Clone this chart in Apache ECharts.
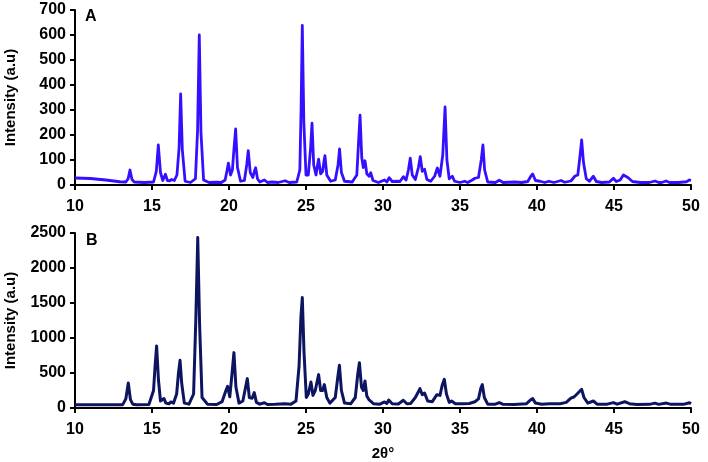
<!DOCTYPE html>
<html><head><meta charset="utf-8">
<script src="https://cdn.jsdelivr.net/npm/echarts@6/dist/echarts.min.js"></script>
<style>html,body{margin:0;padding:0;background:#fff}#c{width:708px;height:462px}</style>
</head><body><div id="c"></div>
<script>
const xTicks = [10, 15, 20, 25, 30, 35, 40, 45, 50];
const yTicksA = [0, 100, 200, 300, 400, 500, 600, 700];
const yTicksB = [0, 500, 1000, 1500, 2000, 2500];
const panelLabels = ['A', 'B'];
const yTitle = 'Intensity (a.u)';
const xTitle = '2θ°';

const patternA = [[10,28],[11,26],[12,20],[12.9,13],[13.3,12],[13.45,25],[13.57,60],[13.7,22],[13.85,12],[14.5,10],[15.1,12],[15.28,55],[15.41,160],[15.55,50],[15.7,18],[15.87,43],[16.0,18],[16.15,17],[16.28,22],[16.45,18],[16.62,40],[16.76,150],[16.86,364],[16.97,140],[17.15,15],[17.5,10],[17.82,25],[17.96,220],[18.07,600],[18.18,210],[18.35,20],[18.7,10],[19.2,11],[19.5,10],[19.75,20],[19.88,60],[19.96,87],[20.1,40],[20.22,60],[20.33,150],[20.43,224],[20.55,70],[20.75,15],[21.0,18],[21.15,80],[21.25,137],[21.38,50],[21.55,30],[21.65,55],[21.73,69],[21.85,25],[22.0,12],[22.3,20],[22.5,10],[22.8,12],[23.2,10],[23.64,17],[23.9,10],[24.4,12],[24.6,60],[24.68,300],[24.76,638],[24.86,250],[25.0,40],[25.15,40],[25.3,150],[25.39,247],[25.5,80],[25.65,40],[25.75,80],[25.82,103],[25.95,45],[26.08,55],[26.18,100],[26.23,117],[26.35,40],[26.6,15],[26.9,20],[27.08,80],[27.18,144],[27.3,50],[27.5,15],[28.0,12],[28.3,40],[28.42,180],[28.51,279],[28.62,110],[28.72,70],[28.83,97],[28.95,45],[29.1,35],[29.2,49],[29.35,18],[29.7,10],[30.1,20],[30.25,12],[30.4,29],[30.6,14],[30.9,15],[31.1,14],[31.32,33],[31.5,20],[31.65,60],[31.77,107],[31.9,40],[32.1,22],[32.3,70],[32.42,113],[32.55,55],[32.7,63],[32.85,22],[33.1,15],[33.35,35],[33.53,68],[33.7,35],[33.88,120],[34.03,312],[34.15,100],[34.3,25],[34.5,35],[34.65,15],[35.0,10],[35.3,15],[35.5,10],[35.8,20],[35.97,27],[36.2,30],[36.38,100],[36.49,160],[36.6,60],[36.8,12],[37.3,10],[37.55,19],[37.8,10],[38.56,12],[39.0,10],[39.4,14],[39.6,35],[39.72,44],[39.9,18],[40.2,15],[40.5,10],[40.77,15],[41.1,10],[41.56,18],[41.8,11],[42.2,16],[42.47,36],[42.65,40],[42.8,120],[42.9,180],[43.02,90],[43.2,25],[43.4,15],[43.66,35],[43.85,14],[44.2,10],[44.7,12],[44.96,27],[45.15,14],[45.4,20],[45.61,40],[45.9,30],[46.2,14],[46.7,10],[47.3,10],[47.66,16],[47.9,10],[48.1,10],[48.38,16],[48.6,10],[49.2,10],[49.7,13],[49.9,20],[50,18]];

const patternB = [[10,48],[12,48],[13.1,48],[13.3,130],[13.46,357],[13.6,120],[13.75,55],[13.85,62],[14.0,48],[14.8,50],[15.1,250],[15.2,600],[15.3,886],[15.42,400],[15.55,100],[15.65,110],[15.78,134],[15.9,70],[16.1,60],[16.23,86],[16.4,70],[16.6,200],[16.72,500],[16.82,681],[16.93,350],[17.1,70],[17.4,55],[17.7,200],[17.85,1300],[17.97,2434],[18.09,1200],[18.25,150],[18.6,55],[19.2,50],[19.55,90],[19.8,250],[19.91,310],[20.05,160],[20.2,500],[20.32,791],[20.45,300],[20.65,70],[20.9,100],[21.08,300],[21.19,420],[21.32,150],[21.5,140],[21.64,220],[21.78,80],[22.0,55],[22.3,75],[22.5,50],[23.0,52],[23.64,62],[24.0,52],[24.35,100],[24.55,600],[24.67,1300],[24.76,1577],[24.87,800],[25.02,150],[25.15,200],[25.32,371],[25.45,180],[25.6,250],[25.82,477],[25.95,250],[26.08,250],[26.19,334],[26.35,150],[26.55,70],[26.9,150],[27.07,450],[27.17,610],[27.3,250],[27.5,70],[27.9,60],[28.2,150],[28.37,500],[28.47,648],[28.6,300],[28.72,250],[28.83,386],[28.95,170],[29.08,120],[29.2,134],[29.4,60],[29.8,55],[30.1,86],[30.25,65],[30.37,114],[30.6,60],[31.0,58],[31.32,110],[31.55,60],[31.8,65],[32.1,150],[32.4,276],[32.55,190],[32.7,214],[32.9,100],[33.2,90],[33.5,190],[33.7,180],[33.85,330],[33.98,410],[34.12,200],[34.3,80],[34.45,100],[34.7,60],[35.2,60],[35.6,65],[35.97,90],[36.2,130],[36.35,280],[36.45,334],[36.58,150],[36.8,55],[37.3,55],[37.55,77],[37.8,52],[38.5,50],[39.3,60],[39.55,110],[39.72,134],[39.9,70],[40.3,55],[40.8,60],[41.5,62],[41.9,80],[42.2,140],[42.4,157],[42.6,200],[42.9,267],[43.05,150],[43.3,70],[43.66,100],[43.9,55],[44.5,52],[44.96,77],[45.2,55],[45.7,90],[46.0,62],[46.5,50],[47.3,52],[47.66,70],[47.9,52],[48.4,70],[48.7,52],[49.5,52],[49.9,75],[50,60]];

const FONT = 'Liberation Sans, Arial, sans-serif';
const chart = echarts.init(document.getElementById('c'), null, {renderer: 'canvas'});

function xAxis(gi, withName) {
  return {
    type: 'value', gridIndex: gi, min: xTicks[0], max: xTicks[xTicks.length-1], interval: xTicks[1]-xTicks[0],
    splitLine: {show: false},
    axisLine: {onZero: false, lineStyle: {color: '#000', width: 2}},
    axisTick: {show: true, inside: false, length: 5, lineStyle: {color: '#000', width: 2}},
    axisLabel: {color: '#000', fontFamily: FONT, fontWeight: 'bold', fontSize: 16, margin: 14, formatter: v => String(v)},
    name: withName ? xTitle : '', nameLocation: 'middle', nameGap: 38,
    nameTextStyle: {color: '#000', fontFamily: FONT, fontWeight: 'bold', fontSize: 15}
  };
}
function yAxis(gi, ticks) {
  return {
    type: 'value', gridIndex: gi, min: ticks[0], max: ticks[ticks.length-1], interval: ticks[1]-ticks[0],
    splitLine: {show: false},
    axisLine: {show: true, lineStyle: {color: '#000', width: 2}},
    axisTick: {show: true, inside: false, length: 5, lineStyle: {color: '#000', width: 2}},
    axisLabel: {color: '#000', fontFamily: FONT, fontWeight: 'bold', fontSize: 16, margin: 9, formatter: v => String(v)},
    name: yTitle, nameLocation: 'middle', nameGap: 57, nameRotate: 90,
    nameTextStyle: {color: '#000', fontFamily: FONT, fontWeight: 'bold', fontSize: 15}
  };
}

chart.setOption({
  animation: false,
  backgroundColor: '#fff',
  grid: [
    {left: 75, right: 17, top: 10, height: 175, containLabel: false, outerBoundsMode: 'none'},
    {left: 75, right: 17, top: 233, height: 175, containLabel: false, outerBoundsMode: 'none'}
  ],
  xAxis: [xAxis(0, false), xAxis(1, true)],
  yAxis: [yAxis(0, yTicksA), yAxis(1, yTicksB)],
  graphic: [
    {type: 'text', left: 85, top: 9, style: {text: panelLabels[0], fontFamily: FONT, fontWeight: 'bold', fontSize: 16, fill: '#000'}},
    {type: 'text', left: 86, top: 233, style: {text: panelLabels[1], fontFamily: FONT, fontWeight: 'bold', fontSize: 16, fill: '#000'}}
  ],
  series: [
    {type: 'line', xAxisIndex: 0, yAxisIndex: 0, data: patternA, showSymbol: false, symbol: 'none',
     lineStyle: {color: '#3311ff', width: 2.8, join: 'round'}},
    {type: 'line', xAxisIndex: 1, yAxisIndex: 1, data: patternB, showSymbol: false, symbol: 'none',
     lineStyle: {color: '#0e1560', width: 3, join: 'round'}}
  ]
});
</script></body></html>
